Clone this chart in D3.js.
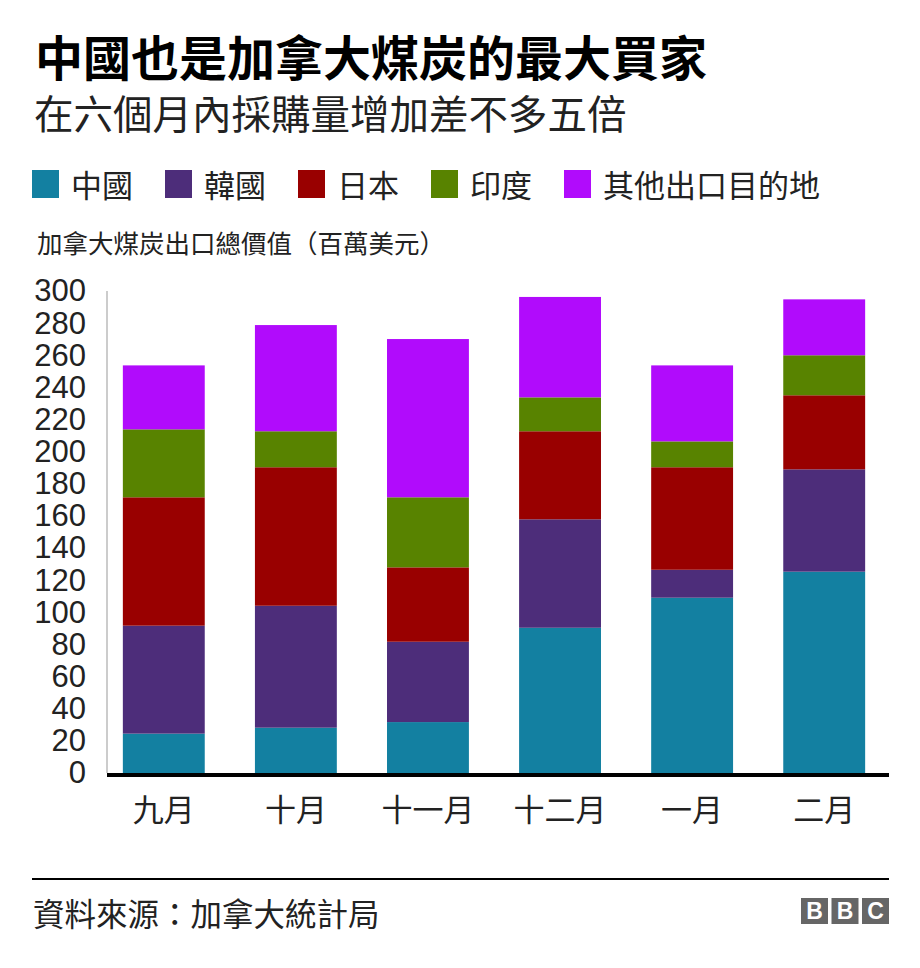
<!DOCTYPE html>
<html>
<head>
<meta charset="utf-8">
<script src="https://cdn.jsdelivr.net/npm/d3@7"></script>
<style>
  html, body { margin: 0; padding: 0; background: #fff; }
  svg { display: block; }
</style>
</head>
<body>
<svg id="chart" width="920" height="968"></svg>
<script>
// ---- data ----
const months = ["九月", "十月", "十一月", "十二月", "一月", "二月"];
const seriesNames = ["中國", "韓國", "日本", "印度", "其他出口目的地"];
const china  = [24.5, 28.2, 31.7, 90.4, 109.1, 125.3];
const korea  = [67.2, 75.9, 50.0, 67.5, 17.4, 63.7];
const japan  = [79.9, 86.2, 46.3, 54.8, 63.8, 46.1];
const india  = [42.3, 22.4, 43.6, 21.1, 16.1, 24.9];
const others = [39.8, 66.1, 98.5, 62.5, 47.3, 34.8];
const yTicks = [0, 20, 40, 60, 80, 100, 120, 140, 160, 180, 200, 220, 240, 260, 280, 300];
const colors = ["#1380a1", "#4d2d7a", "#990000", "#588300", "#b10bfc"];

const title = "中國也是加拿大煤炭的最大買家";
const subtitle = "在六個月內採購量增加差不多五倍";
const yLabel = "加拿大煤炭出口總價值（百萬美元）";
const source = "資料來源：加拿大統計局";

const cjk = "'Noto Sans CJK TC', 'Noto Sans CJK SC', sans-serif";
const latin = "'Liberation Sans', Arial, 'Noto Sans CJK TC', sans-serif";

const svg = d3.select("#chart");

// table for stacking
const keys = ["china", "korea", "japan", "india", "others"];
const table = months.map((m, i) => ({
  month: m, china: china[i], korea: korea[i], japan: japan[i], india: india[i], others: others[i]
}));
const stacked = d3.stack().keys(keys)(table);

// scales
const x = d3.scaleBand().domain(months).range([107, 881]).paddingInner(0.38).paddingOuter(0.12);
const y = d3.scaleLinear().domain([0, 300]).range([773, 291]);
const color = d3.scaleOrdinal().domain(keys).range(colors);

// titles
svg.append("text").attr("x", 35).attr("y", 76)
  .attr("font-family", cjk).attr("font-weight", 700).attr("font-size", 48)
  .attr("fill", "#000").text(title);
svg.append("text").attr("x", 34).attr("y", 129)
  .attr("font-family", cjk).attr("font-size", 39.5)
  .attr("fill", "#222").text(subtitle);

// legend
let lx = 32;
seriesNames.forEach((name, i) => {
  const g = svg.append("g");
  g.append("rect").attr("x", lx).attr("y", 170).attr("width", 27).attr("height", 28)
    .attr("fill", colors[i]);
  const t = g.append("text").attr("x", lx + 27 + 12).attr("y", 197)
    .attr("font-family", cjk).attr("font-size", 31).attr("fill", "#222").text(name);
  const w = t.node().getComputedTextLength();
  lx += 27 + 12 + w + 32;
});

// y label
svg.append("text").attr("x", 37).attr("y", 253)
  .attr("font-family", cjk).attr("font-size", 25.5).attr("fill", "#222").text(yLabel);

// y axis
const yAxis = d3.axisLeft(y).tickValues(yTicks).tickSize(0).tickPadding(21).tickFormat(d3.format("d"));
const yg = svg.append("g").attr("transform", "translate(107,0)").call(yAxis);
yg.select(".domain").remove();
yg.selectAll("text").attr("font-family", latin).attr("font-size", 31).attr("fill", "#222");
svg.append("line").attr("x1", 107).attr("x2", 107).attr("y1", y(300)).attr("y2", y(0))
  .attr("stroke", "#cccccc").attr("stroke-width", 2);

// bars
svg.append("g").selectAll("g").data(stacked).join("g")
  .attr("fill", d => color(d.key))
  .selectAll("rect").data(d => d).join("rect")
  .attr("x", d => x(d.data.month))
  .attr("width", x.bandwidth())
  .attr("y", d => y(d[1]))
  .attr("height", d => y(d[0]) - y(d[1]));

// x axis
const xAxis = d3.axisBottom(x).tickSize(0).tickPadding(24);
const xg = svg.append("g").attr("transform", "translate(0,775)").call(xAxis);
xg.select(".domain").remove();
xg.selectAll("text").attr("font-family", cjk).attr("font-size", 31).attr("fill", "#222");
svg.append("line").attr("x1", 107).attr("x2", 889).attr("y1", 775).attr("y2", 775)
  .attr("stroke", "#000").attr("stroke-width", 4);

// footer
svg.append("line").attr("x1", 32).attr("x2", 889).attr("y1", 879).attr("y2", 879)
  .attr("stroke", "#000").attr("stroke-width", 2);
svg.append("text").attr("x", 33).attr("y", 926)
  .attr("font-family", cjk).attr("font-size", 31.5).attr("fill", "#222").text(source);

// BBC logo
["B", "B", "C"].forEach((ch, i) => {
  const bx = 801 + i * 30.5;
  svg.append("rect").attr("x", bx).attr("y", 898).attr("width", 27).attr("height", 26).attr("fill", "#666");
  svg.append("text").attr("x", bx + 13.5).attr("y", 919).attr("text-anchor", "middle")
    .attr("font-family", latin).attr("font-weight", 700).attr("font-size", 23)
    .attr("fill", "#fff").text(ch);
});
</script>
</body>
</html>
